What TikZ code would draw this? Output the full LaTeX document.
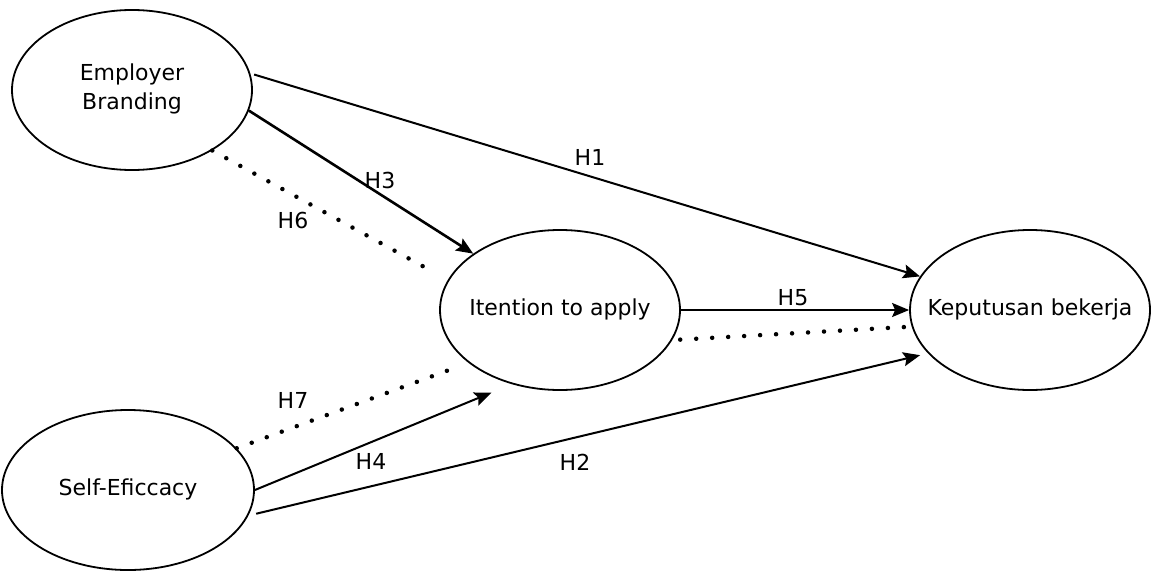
\documentclass[tikz,border=0pt]{standalone}
\usepackage{fontspec}
\setmainfont{DejaVu Sans}
\usetikzlibrary{shapes.geometric,arrows.meta}
\newcommand{\zwtext}[1]{\makebox[0pt]{\begin{tabular}{@{}c@{}}#1\end{tabular}}}
\begin{document}
\begin{tikzpicture}[x=1pt,y=-1pt,
  latent/.style={ellipse,draw,line width=1.8pt,minimum width=240pt,minimum height=160pt,inner sep=0pt,font=\fontsize{22}{27}\selectfont},
  solidarrow/.style={line width=2pt,-{Stealth[length=17pt,width=14pt,inset=3pt]}},
  dotline/.style={line width=4.5pt,line cap=round,dash pattern=on 0pt off 16pt},
  lbl/.style={font=\fontsize{22}{26}\selectfont,inner sep=1pt}]
\useasboundingbox (0,0) rectangle (1158,570);
\node[latent] (eb) at (132,90) {\zwtext{Employer\\[2pt]Branding}};
\node[latent,minimum width=252pt] (se) at (128,490) {\zwtext{Self-Eficcacy}};
\node[latent] (ia) at (560,310) {\zwtext{Itention to apply}};
\node[latent] (kb) at (1030,310) {\zwtext{Keputusan bekerja}};
% solid paths
\draw[solidarrow,shorten <=4pt] (eb.8) -- (kb.163);
\draw[solidarrow,line width=2.6pt] (eb.-10) -- (ia.147);
\draw[solidarrow] (ia.east) -- (kb.west);
\draw[solidarrow,shorten >=22pt] (se.east) -- (ia.237);
\draw[solidarrow,shorten <=8pt,shorten >=8pt] (se.-12) -- (kb.203);
% dotted paths
\draw[dotline,shorten >=20pt] (eb.-37) -- (ia.165);
\draw[dotline,shorten >=21pt] (se.21.5) -- (ia.210);
\draw[dotline,shorten <=8pt] (ia.-15) -- (kb.188.5);
% labels
\node[lbl] (h1) at (590,157) {H1};
\node[lbl] (h3) at (380,180) {H3};
\node[lbl] (h6) at (293,220) {H6};
\node[lbl] (h5) at (793,298) {H5};
\node[lbl] (h7) at (293,400) {H7};
\node[lbl] (h4) at (371,461) {H4};
\node[lbl] (h2) at (575,462) {H2};
\end{tikzpicture}
\end{document}
